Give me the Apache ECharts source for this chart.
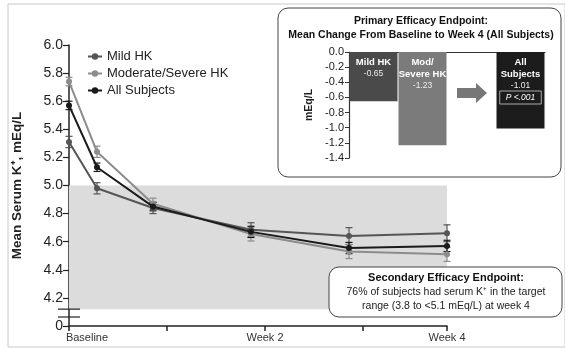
<!DOCTYPE html>
<html>
<head>
<meta charset="utf-8">
<script src="https://cdn.jsdelivr.net/npm/echarts@6/dist/echarts.min.js"></script>
<style>
  html, body { margin: 0; padding: 0; background: #fff; }
  #main { width: 565px; height: 350px; }
</style>
</head>
<body>
<div id="main"></div>
<script>
var FONT = '"Liberation Sans", Arial, sans-serif';

// time points in days from baseline
var days = [0, 2, 6, 13, 20, 27];
var tickDays = [0, 7, 14, 21, 27];
var tickLabels = { 0: 'Baseline', 14: 'Week 2', 27: 'Week 4' };

// mean serum K+ (mEq/L) and error bar half widths
var mild = [5.31, 4.98, 4.84, 4.685, 4.64, 4.66];
var mildErr = [0.04, 0.04, 0.04, 0.05, 0.06, 0.06];
var modSevere = [5.74, 5.24, 4.87, 4.655, 4.53, 4.51];
var modSevereErr = [0.03, 0.04, 0.04, 0.05, 0.05, 0.05];
var allSubjects = [5.57, 5.13, 4.85, 4.67, 4.555, 4.57];
var allErr = [0.03, 0.03, 0.03, 0.04, 0.04, 0.04];

var targetLow = 4.12, targetHigh = 5.0;

// inset: mean change baseline -> week 4
var insetNames = ['Mild HK', 'Mod/\nSevere HK', '', 'All\nSubjects'];
var insetValues = [-0.65, -1.23, null, -1.01];
var insetColors = ['#4a4a4a', '#7b7b7b', '#fff', '#1c1c1c'];

var colMild = '#555555', colMod = '#8c8c8c', colAll = '#1a1a1a';

function pairs(vals) {
    var out = [];
    for (var i = 0; i < days.length; i++) out.push([days[i], vals[i]]);
    return out;
}
function errData(vals, errs) {
    var out = [];
    for (var i = 0; i < days.length; i++) out.push([days[i], vals[i] - errs[i], vals[i] + errs[i]]);
    return out;
}
function errorSeries(vals, errs, color) {
    return {
        type: 'custom',
        xAxisIndex: 0, yAxisIndex: 0,
        silent: true,
        z: 4,
        data: errData(vals, errs),
        renderItem: function (params, api) {
            var lo = api.coord([api.value(0), api.value(1)]);
            var hi = api.coord([api.value(0), api.value(2)]);
            var st = { stroke: color, lineWidth: 1.2 };
            return {
                type: 'group',
                children: [
                    { type: 'line', shape: { x1: lo[0], y1: lo[1], x2: hi[0], y2: hi[1] }, style: st },
                    { type: 'line', shape: { x1: lo[0] - 3.5, y1: lo[1], x2: lo[0] + 3.5, y2: lo[1] }, style: st },
                    { type: 'line', shape: { x1: hi[0] - 3.5, y1: hi[1], x2: hi[0] + 3.5, y2: hi[1] }, style: st }
                ]
            };
        }
    };
}
function lineSeries(name, vals, color, z) {
    return {
        name: name,
        type: 'line',
        xAxisIndex: 0, yAxisIndex: 0,
        data: pairs(vals),
        symbol: 'circle',
        symbolSize: 6,
        z: z,
        lineStyle: { color: color, width: 2 },
        itemStyle: { color: color },
        emphasis: { disabled: true }
    };
}

var barData = [];
for (var i = 0; i < insetNames.length; i++) {
    barData.push({ value: insetValues[i], itemStyle: { color: insetColors[i] } });
}

var chart = echarts.init(document.getElementById('main'));
var option = {
    animation: false,
    textStyle: { fontFamily: FONT },
    legend: {
        orient: 'vertical',
        left: 82, top: 45,
        itemWidth: 14, itemHeight: 8, itemGap: 4,
        textStyle: { fontFamily: FONT, fontSize: 13, color: '#222' },
        data: ['Mild HK', 'Moderate/Severe HK', 'All Subjects']
    },
    grid: [
        { left: 69, top: 45, width: 378, height: 281 },
        { left: 349, top: 52, width: 196, height: 106 }
    ],
    xAxis: [{
        type: 'value', gridIndex: 0,
        min: 0, max: 27,
        splitLine: { show: false },
        axisLine: { lineStyle: { color: '#222', width: 1.5 } },
        axisTick: { show: true, length: 5, customValues: tickDays, lineStyle: { color: '#222', width: 1.5 } },
        axisLabel: {
            customValues: [0, 14, 27],
            fontFamily: FONT, fontSize: 11, color: '#333', margin: 6,
            formatter: function (v) {
                if (v === 0) return '{b|' + tickLabels[0] + '}';
                return tickLabels[v] || '';
            },
            rich: { b: { fontFamily: FONT, fontSize: 11, color: '#333', padding: [0, 0, 0, 36] } }
        }
    }, {
        type: 'category', gridIndex: 1,
        position: 'top',
        data: insetNames,
        axisLine: { lineStyle: { color: '#333', width: 1.2 } },
        axisTick: { show: false },
        axisLabel: { show: false }
    }],
    yAxis: [{
        type: 'value', gridIndex: 0,
        min: 4, max: 6, interval: 0.2,
        name: 'Mean Serum K\u207A, mEq/L',
        nameLocation: 'middle', nameGap: 45,
        nameTextStyle: { fontFamily: FONT, fontSize: 13.5, fontWeight: 'bold', color: '#222' },
        splitLine: { show: false },
        axisLine: { show: true, lineStyle: { color: '#222', width: 1.5 } },
        axisTick: { show: true, length: 6, lineStyle: { color: '#222', width: 1.2 } },
        axisLabel: {
            fontFamily: FONT, fontSize: 14, color: '#222', margin: 6,
            formatter: function (v) { return Math.abs(v - 4) < 1e-6 ? '0' : v.toFixed(1); }
        }
    }, {
        type: 'value', gridIndex: 1,
        min: -1.4, max: 0, interval: 0.2,
        name: 'mEq/L',
        nameLocation: 'middle', nameGap: 34,
        nameTextStyle: { fontFamily: FONT, fontSize: 10.5, fontWeight: 'bold', color: '#222' },
        splitLine: { show: false },
        axisLine: { show: true, lineStyle: { color: '#333', width: 1.2 } },
        axisTick: { show: true, length: 4, lineStyle: { color: '#333' } },
        axisLabel: {
            fontFamily: FONT, fontSize: 11, color: '#222', margin: 5,
            formatter: function (v) { return v.toFixed(1); }
        }
    }],
    series: [
        {
            type: 'line',
            xAxisIndex: 0, yAxisIndex: 0,
            data: [],
            silent: true,
            markArea: {
                silent: true,
                itemStyle: { color: '#dcdcdc' },
                data: [[{ xAxis: 0, yAxis: targetLow }, { xAxis: 27.6, yAxis: targetHigh }]]
            }
        },
        errorSeries(mild, mildErr, colMild),
        errorSeries(modSevere, modSevereErr, colMod),
        errorSeries(allSubjects, allErr, colAll),
        lineSeries('Mild HK', mild, colMild, 5),
        lineSeries('Moderate/Severe HK', modSevere, colMod, 5),
        lineSeries('All Subjects', allSubjects, colAll, 6),
        {
            type: 'bar',
            xAxisIndex: 1, yAxisIndex: 1,
            data: barData,
            barWidth: 48,
            silent: true,
            label: {
                show: true,
                position: 'insideTop',
                distance: 4,
                formatter: function (p) {
                    if (p.value == null) return '';
                    var parts = p.name.split('\n').map(function (s) { return '{t|' + s + '}'; });
                    parts.push('{v|' + p.value.toFixed(2) + '}');
                    if (p.dataIndex === 3) parts.push('{p|P <.001}');
                    return parts.join('\n');
                },
                rich: {
                    t: { fontFamily: FONT, fontSize: 9.5, fontWeight: 'bold', color: '#fff', lineHeight: 12 },
                    v: { fontFamily: FONT, fontSize: 8.5, color: '#eee', lineHeight: 12 },
                    p: { fontFamily: FONT, fontSize: 8.5, fontStyle: 'italic', color: '#fff', borderColor: '#aaa', borderWidth: 1, padding: [2, 6], lineHeight: 11 }
                }
            }
        }
    ]
};
chart.setOption(option);

// decorations placed from the axes
var b1 = chart.convertToPixel({ gridIndex: 0 }, [0, targetLow]);
var b2 = chart.convertToPixel({ gridIndex: 0 }, [0, 4.064]);
var ac = chart.convertToPixel({ xAxisIndex: 1, yAxisIndex: 1 }, [2, -0.54]);
var ax = Math.round(ac[0]), ay = Math.round(ac[1]);

chart.setOption({
    graphic: [
        { type: 'rect', shape: { x: 8, y: 4, width: 557, height: 343 }, style: { fill: 'none', stroke: '#c8c8c8', lineWidth: 1 }, z: -10, silent: true },
        { type: 'line', shape: { x1: b1[0] - 11, y1: b1[1], x2: b1[0] + 11, y2: b1[1] }, style: { stroke: '#222', lineWidth: 1.2 }, z: 50 },
        { type: 'line', shape: { x1: b2[0] - 11, y1: b2[1], x2: b2[0] + 11, y2: b2[1] }, style: { stroke: '#222', lineWidth: 1.2 }, z: 50 },
        { type: 'rect', shape: { x: 278, y: 8, width: 283, height: 169, r: 10 }, style: { fill: 'none', stroke: '#444', lineWidth: 1 }, silent: true },
        { type: 'text', style: { x: 421, y: 21, text: 'Primary Efficacy Endpoint:', font: 'bold 10.5px ' + FONT, fill: '#111', align: 'center', verticalAlign: 'middle' } },
        { type: 'text', style: { x: 421, y: 35, text: 'Mean Change From Baseline to Week 4 (All Subjects)', font: 'bold 10.5px ' + FONT, fill: '#111', align: 'center', verticalAlign: 'middle' } },
        { type: 'polygon', shape: { points: [[ax - 15, ay - 5], [ax + 4, ay - 5], [ax + 4, ay - 10], [ax + 15, ay], [ax + 4, ay + 10], [ax + 4, ay + 5], [ax - 15, ay + 5]] }, style: { fill: '#777' } },
        { type: 'rect', shape: { x: 329, y: 267, width: 233, height: 50, r: 10 }, style: { fill: '#fff', stroke: '#444', lineWidth: 1 }, z: 100 },
        { type: 'text', z: 101, style: { x: 446, y: 278, text: 'Secondary Efficacy Endpoint:', font: 'bold 11px ' + FONT, fill: '#111', align: 'center', verticalAlign: 'middle' } },
        { type: 'text', z: 101, style: { x: 446, y: 292, text: '76% of subjects had serum K\u207A in the target', font: '10.5px ' + FONT, fill: '#222', align: 'center', verticalAlign: 'middle' } },
        { type: 'text', z: 101, style: { x: 446, y: 306, text: 'range (3.8 to <5.1 mEq/L) at week 4', font: '10.5px ' + FONT, fill: '#222', align: 'center', verticalAlign: 'middle' } }
    ]
});
</script>
</body>
</html>
